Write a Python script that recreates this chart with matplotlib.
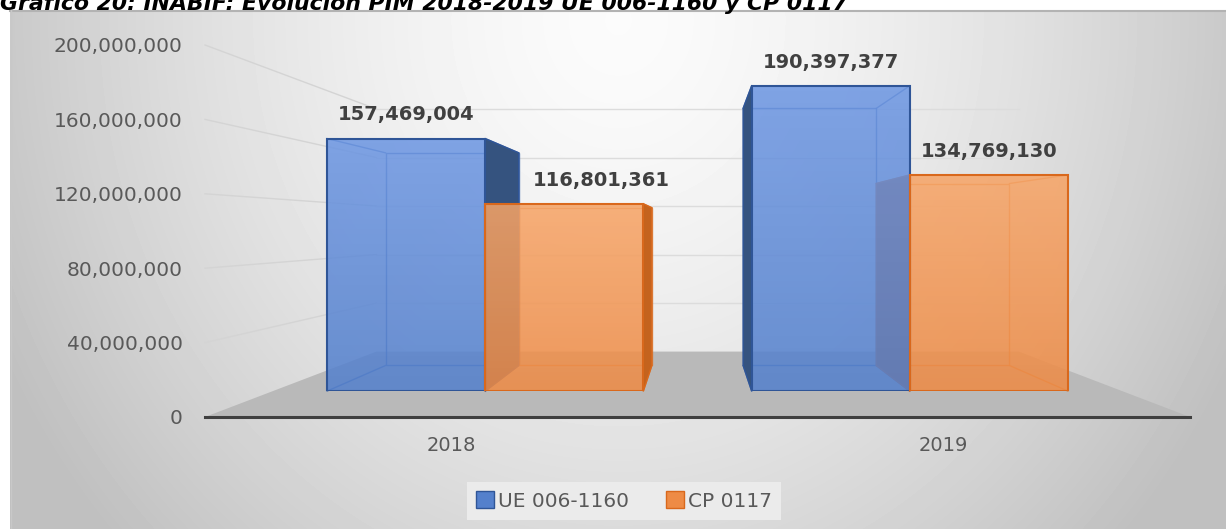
import numpy as np
import matplotlib.pyplot as plt
from matplotlib.patches import Patch, Polygon
from matplotlib.colors import LinearSegmentedColormap

#### datos ####
years = ['2018', '2019']
series = ['UE 006-1160', 'CP 0117']
ue = [157469004, 190397377]
cp = [116801361, 134769130]
yticks = [0, 40e6, 80e6, 120e6, 160e6, 200e6]
title = 'Gráfico 20: INABIF: Evolución PIM 2018-2019 UE 006-1160 y CP 0117'

W, H = 1226, 529
fig = plt.figure(figsize=(W / 100, H / 100), dpi=100)


def fx(x):
    return x / W


def fy(y):
    return 1 - y / H


#### fondo con degradado ####
bg = fig.add_axes([0, 0, 1, 1], zorder=0)
bg.set_xlim(0, W)
bg.set_ylim(H, 0)
bg.axis('off')
xx, yy = np.meshgrid(np.arange(10, W), np.arange(10, H))
d = np.hypot(xx - 618, (yy - 20) * 0.9) / 620
shade = np.clip(0.985 - 0.2 * d ** 1.5, 0.75, 0.99)
bg.imshow(shade, cmap='gray', vmin=0, vmax=1, extent=(10, W, H, 10), aspect='auto',
          interpolation='bilinear')
bg.set_xlim(0, W)
bg.set_ylim(H, 0)
bg.plot([10, W], [10.5, 10.5], color='#b3b3b3', lw=1.5)
bg.plot([10.5, 10.5], [10, H], color='#c8c8c8', lw=1)
bg.text(0, 10, title, fontsize=15.8, fontweight='bold', fontstyle='italic',
        va='baseline', ha='left', color='black')

#### planos en perspectiva ####
VX, VY = 697.5, 229
FX0, FX1, FY0, FY1 = 205, 1190, 417, 45


def plane(s, z):
    l = VX + s * (FX0 - VX)
    r = VX + s * (FX1 - VX)
    b = VY + s * (FY0 - VY)
    t = VY + s * (FY1 - VY)
    ax = fig.add_axes([fx(l), fy(b), (r - l) / W, (b - t) / H], zorder=z)
    ax.set_xlim(-0.5, 1.5)
    ax.set_ylim(0, 200e6)
    ax.patch.set_visible(False)
    return ax


ov = fig.add_axes([0, 0, 1, 1], zorder=1)
ov.set_xlim(0, W)
ov.set_ylim(0, H)
ov.axis('off')

ax_wall = plane(0.652, 0.5)
ax_back = plane(0.726, 0.5)
ax_face = plane(0.862, 2)
ax_front = plane(1.0, 3)
for a in (ax_wall, ax_back, ax_face):
    a.axis('off')


def P(ax, x, y):
    return ov.transData.inverted().transform(ax.transData.transform((x, y)))


# piso
floor = [P(ax_front, -0.5, 0), P(ax_front, 1.5, 0), P(ax_wall, 1.5, 0), P(ax_wall, -0.5, 0)]
ov.add_patch(Polygon(floor, closed=True, fc='#b9b9b9', ec='none', zorder=1))

# lineas de cuadricula
for v in yticks[1:]:
    a, b = P(ax_front, -0.5, v), P(ax_wall, -0.5, v)
    ov.plot([a[0], b[0]], [a[1], b[1]], color='#d4d4d4', lw=1, zorder=2)
    a, b = P(ax_wall, -0.5, v), P(ax_wall, 1.5, v)
    ov.plot([a[0], b[0]], [a[1], b[1]], color='#dcdcdc', lw=1, zorder=2)

#### barras ####
w = 0.3724
styles = [
    dict(top='#6c96e2', bot='#5480cc', edge='#2f5597', side='#35537f', line='#3a63a8'),
    dict(top='#f7a466', bot='#ee8b45', edge='#d9681c', side='#c4631e', line='#d97a35'),
]
# desplazamiento horizontal de etiquetas (pt): [serie][año]
label_shift = [[0, 0], [27, 0]]

for i in range(len(years)):
    for j, vals in enumerate([ue, cp]):
        st = styles[j]
        v = vals[i]
        x0 = i - w if j == 0 else i
        x1 = x0 + w
        # cara trasera
        back = [P(ax_back, x0, 0), P(ax_back, x1, 0), P(ax_back, x1, v), P(ax_back, x0, v)]
        ov.add_patch(Polygon(back, closed=True, fc='none', ec=st['line'], lw=1, alpha=0.8, zorder=3))
        # cara lateral visible
        cx = P(ax_face, (x0 + x1) / 2, 0)[0]
        xs = x1 if cx < VX else x0
        side = [P(ax_face, xs, 0), P(ax_face, xs, v), P(ax_back, xs, v), P(ax_back, xs, 0)]
        ov.add_patch(Polygon(side, closed=True, fc=st['side'], ec=st['edge'], lw=1, zorder=4))
        # aristas de profundidad
        for (px, py) in [(x0, 0), (x1, 0), (x0, v), (x1, v)]:
            a, b = P(ax_face, px, py), P(ax_back, px, py)
            ov.plot([a[0], b[0]], [a[1], b[1]], color=st['line'], lw=1, alpha=0.8, zorder=3)
        # cara frontal
        rect = ax_face.bar(x0, v, w, align='edge', color='none', edgecolor=st['edge'],
                           lw=1.5, zorder=3)[0]
        cmap = LinearSegmentedColormap.from_list('g', [st['bot'], st['top']])
        im = ax_face.imshow(np.linspace(0, 1, 50).reshape(-1, 1), cmap=cmap, origin='lower',
                            extent=(x0, x1, 0, v), aspect='auto', alpha=0.86, zorder=2)
        im.set_clip_path(rect)
        ax_face.annotate(f'{v:,.0f}', (x0 + w / 2, v), xytext=(label_shift[j][i], 17),
                         textcoords='offset points', ha='center', va='center',
                         fontsize=14, fontweight='bold', color='#404040')

ax_face.set_xlim(-0.5, 1.5)
ax_face.set_ylim(0, 200e6)

#### ejes frontales ####
ax_front.set_xticks([0, 1], years)
ax_front.set_yticks(yticks)
ax_front.set_yticklabels([f'{t:,.0f}' for t in yticks])
ax_front.tick_params(axis='both', length=0, colors='#595959', labelsize=14.5)
ax_front.tick_params(axis='x', pad=14, labelsize=14)
ax_front.tick_params(axis='y', pad=16)
for s in ['top', 'left', 'right']:
    ax_front.spines[s].set_visible(False)
ax_front.spines['bottom'].set_color('#3f3f3f')
ax_front.spines['bottom'].set_linewidth(2.2)

#### leyenda ####
handles = [Patch(fc=styles[0]['bot'], ec=styles[0]['edge']),
           Patch(fc=styles[1]['bot'], ec=styles[1]['edge'])]
leg = fig.legend(handles, series, loc='center', bbox_to_anchor=(fx(624), fy(501)), ncol=2,
                 frameon=True, facecolor='#ebebeb', edgecolor='none', framealpha=1,
                 fancybox=False, fontsize=14.5, labelcolor='#595959', handlelength=0.9,
                 handleheight=0.9, handletextpad=0.2, columnspacing=1.8, borderpad=0.45,
                 borderaxespad=0)

fig.savefig('out.png', dpi=100)
